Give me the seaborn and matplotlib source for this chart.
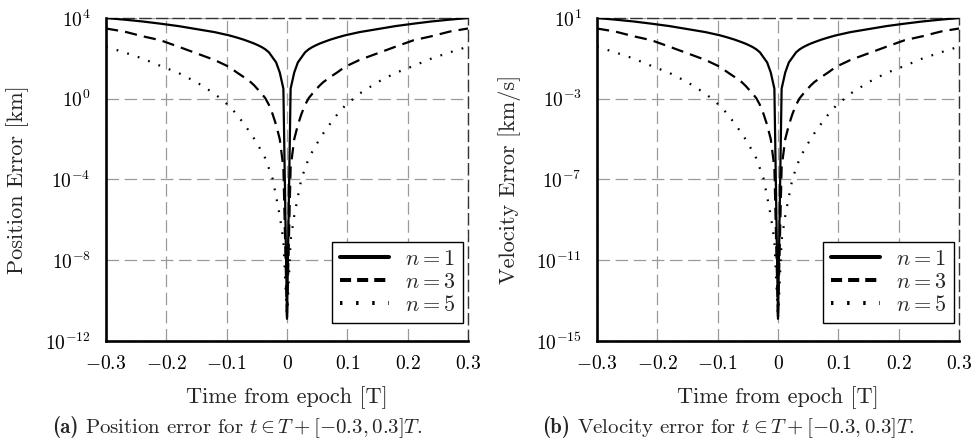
import matplotlib
matplotlib.use("Agg")
import matplotlib.pyplot as plt
from matplotlib.lines import Line2D
from matplotlib.ticker import FixedLocator, FixedFormatter, NullLocator
import numpy as np
import pandas as pd
import seaborn as sns

# ---------------- data ----------------
time_T = [-0.30, -0.27, -0.24, -0.21, -0.18, -0.15, -0.12, -0.096, -0.084, -0.072,
          -0.060, -0.054, -0.048, -0.042, -0.036, -0.030, -0.024, -0.018, -0.012, -0.006,
          0.0,
          0.006, 0.012, 0.018, 0.024, 0.030, 0.036, 0.042, 0.048, 0.054, 0.060,
          0.072, 0.084, 0.096, 0.12, 0.15, 0.18, 0.21, 0.24, 0.27, 0.30]

# log10 of position error [km]
pos_n1_exp = [4.0, 3.92, 3.83, 3.72, 3.6, 3.45, 3.3, 3.14, 3.04, 2.93, 2.8, 2.73, 2.65, 2.56, 2.45,
              2.3, 2.05, 1.8, 1.3, 0.5, -10.9, 0.5, 1.3, 1.8, 2.05, 2.3, 2.45, 2.56, 2.65, 2.73,
              2.8, 2.93, 3.04, 3.14, 3.3, 3.45, 3.6, 3.72, 3.83, 3.92, 4.0]
pos_n3_exp = [3.48, 3.33, 3.1, 2.9, 2.58, 2.25, 1.92, 1.58, 1.32, 1.08, 0.82, 0.65, 0.45, 0.25, 0.03,
              -0.3, -0.75, -1.3, -2.0, -3.4, -10.9, -3.4, -2.0, -1.3, -0.75, -0.3, 0.03, 0.25, 0.45,
              0.65, 0.82, 1.08, 1.32, 1.58, 1.92, 2.25, 2.58, 2.9, 3.1, 3.33, 3.48]
pos_n5_exp = [2.58, 2.3, 2.0, 1.63, 1.28, 0.82, 0.25, -0.35, -0.75, -1.22, -1.72, -2.0, -2.3, -2.62,
              -2.95, -3.45, -3.95, -4.85, -5.8, -7.0, -10.9, -7.0, -5.8, -4.85, -3.95, -3.45, -2.95,
              -2.62, -2.3, -2.0, -1.72, -1.22, -0.75, -0.35, 0.25, 0.82, 1.28, 1.63, 2.0, 2.3, 2.58]

# log10 of velocity error [km/s]
vel_n1_exp = [1.0, 0.92, 0.83, 0.72, 0.6, 0.45, 0.3, 0.14, 0.04, -0.07, -0.2, -0.27, -0.35, -0.44,
              -0.55, -0.7, -0.95, -1.2, -1.7, -2.5, -13.9, -2.5, -1.7, -1.2, -0.95, -0.7, -0.55,
              -0.44, -0.35, -0.27, -0.2, -0.07, 0.04, 0.14, 0.3, 0.45, 0.6, 0.72, 0.83, 0.92, 1.0]
vel_n3_exp = [0.48, 0.33, 0.1, -0.1, -0.42, -0.75, -1.08, -1.42, -1.68, -1.92, -2.18, -2.35, -2.55,
              -2.75, -2.97, -3.3, -3.75, -4.3, -5.0, -6.4, -13.9, -6.4, -5.0, -4.3, -3.75, -3.3,
              -2.97, -2.75, -2.55, -2.35, -2.18, -1.92, -1.68, -1.42, -1.08, -0.75, -0.42, -0.1,
              0.1, 0.33, 0.48]
vel_n5_exp = [-0.42, -0.7, -1.0, -1.37, -1.72, -2.18, -2.75, -3.35, -3.75, -4.22, -4.72, -5.0, -5.3,
              -5.62, -5.95, -6.45, -6.95, -7.85, -8.8, -10.0, -13.9, -10.0, -8.8, -7.85, -6.95,
              -6.45, -5.95, -5.62, -5.3, -5.0, -4.72, -4.22, -3.75, -3.35, -2.75, -2.18, -1.72,
              -1.37, -1.0, -0.7, -0.42]

series_labels = ["$n = 1$", "$n = 3$", "$n = 5$"]

x_ticks = [-0.3, -0.2, -0.1, 0.0, 0.1, 0.2, 0.3]
x_ticklabels = ["$-0.3$", "$-0.2$", "$-0.1$", "$0$", "$0.1$", "$0.2$", "$0.3$"]
pos_yticks = [1e-12, 1e-8, 1e-4, 1e0, 1e4]
pos_yticklabels = ["$10^{-12}$", "$10^{-8}$", "$10^{-4}$", "$10^{0}$", "$10^{4}$"]
vel_yticks = [1e-15, 1e-11, 1e-7, 1e-3, 1e1]
vel_yticklabels = ["$10^{-15}$", "$10^{-11}$", "$10^{-7}$", "$10^{-3}$", "$10^{1}$"]

# ---------------- style ----------------
sns.set_theme(style="white")
plt.rcParams["font.family"] = ["cmr10", "DejaVu Serif"]
plt.rcParams["mathtext.fontset"] = "cm"
plt.rcParams["axes.formatter.use_mathtext"] = True
plt.rcParams["axes.unicode_minus"] = False

W, H = 975, 440
fig = plt.figure(figsize=(W / 100, H / 100), dpi=100)
fig.patch.set_facecolor("white")


def px_axes(x0, y0, x1, y1):
    return fig.add_axes([x0 / W, 1 - y1 / H, (x1 - x0) / W, (y1 - y0) / H])


LW = 1.6
DASHES = {"$n = 1$": "", "$n = 3$": (5.5, 3.2), "$n = 5$": (0.8, 4.2)}


def make_df(exps):
    frames = []
    for lab, e in zip(series_labels, exps):
        frames.append(pd.DataFrame({"t": time_T, "err": 10.0 ** np.array(e), "n": lab}))
    return pd.concat(frames, ignore_index=True)


def draw_panel(ax, exps, yticks, yticklabels, ylim):
    df = make_df(exps)
    sns.lineplot(data=df, x="t", y="err", style="n", dashes=DASHES, color="black",
                 linewidth=LW, estimator=None, legend=False, ax=ax, zorder=3)
    ax.set_yscale("log")
    ax.set_xlim(-0.3, 0.3)
    ax.set_ylim(*ylim)
    ax.xaxis.set_major_locator(FixedLocator(x_ticks))
    ax.xaxis.set_major_formatter(FixedFormatter(x_ticklabels))
    ax.yaxis.set_major_locator(FixedLocator(yticks))
    ax.yaxis.set_major_formatter(FixedFormatter(yticklabels))
    ax.yaxis.set_minor_locator(NullLocator())
    ax.xaxis.set_minor_locator(NullLocator())
    ax.tick_params(axis="both", which="both", length=0, labelsize=14, colors="black")
    ax.tick_params(axis="x", pad=10)
    ax.tick_params(axis="y", pad=11)
    ax.set_xlabel("")
    ax.set_ylabel("")
    ax.set_axisbelow(True)
    ax.grid(True, which="major", color="#9a9a9a", linewidth=0.9,
            linestyle=(0, (10, 4.5)))
    ax.set_facecolor("white")
    for s in ["left", "bottom"]:
        ax.spines[s].set_color("black")
        ax.spines[s].set_linewidth(1.9)
    for s in ["top", "right"]:
        ax.spines[s].set_color("#333333")
        ax.spines[s].set_linewidth(1.0)
        ax.spines[s].set_linestyle((0, (8, 4)))
    handles = [
        Line2D([], [], color="black", lw=2.9, linestyle="-"),
        Line2D([], [], color="black", lw=2.9, linestyle=(0, (2.75, 1.5))),
        Line2D([], [], color="black", lw=2.9, linestyle=(0, (0.6, 3.4))),
    ]
    leg = ax.legend(handles, series_labels, loc="lower right",
                    bbox_to_anchor=(0.986, 0.056), fontsize=16, frameon=True,
                    fancybox=False, edgecolor="black", framealpha=1,
                    handlelength=2.2, labelspacing=0.15, borderpad=0.35,
                    handletextpad=0.7, borderaxespad=0.0)
    leg.get_frame().set_linewidth(1.0)


ax1 = px_axes(106, 18, 468, 341)
draw_panel(ax1, [pos_n1_exp, pos_n3_exp, pos_n5_exp], pos_yticks, pos_yticklabels, (1e-12, 1e4))
ax2 = px_axes(597, 18, 959, 341)
draw_panel(ax2, [vel_n1_exp, vel_n3_exp, vel_n5_exp], vel_yticks, vel_yticklabels, (1e-15, 1e1))

# axis labels and captions
fig.text(18 / W, 1 - 179.5 / H, "Position Error [km]", rotation=90, ha="center",
         va="center", fontsize=16)
fig.text(510 / W, 1 - 179.5 / H, "Velocity Error [km/s]", rotation=90, ha="center",
         va="center", fontsize=16)
fig.text(287 / W, 1 - 403 / H, "Time from epoch [T]", ha="center", va="baseline", fontsize=16)
fig.text(778 / W, 1 - 403 / H, "Time from epoch [T]", ha="center", va="baseline", fontsize=16)

renderer = fig.canvas.get_renderer()
for x0, tag, body in [(52, "(a)", r"Position error for $t \in T + [-0.3, 0.3]T$."),
                      (542, "(b)", r"Velocity error for $t \in T + [-0.3, 0.3]T$.")]:
    t1 = fig.text(x0 / W, 1 - 433 / H, tag, ha="left", va="baseline", fontsize=15,
                  family="cmb10")
    bb = t1.get_window_extent(renderer=renderer)
    fig.text((bb.x1 + 7) / W, 1 - 433 / H, body, ha="left", va="baseline", fontsize=15)

fig.savefig("out.png", dpi=100, facecolor="white")
